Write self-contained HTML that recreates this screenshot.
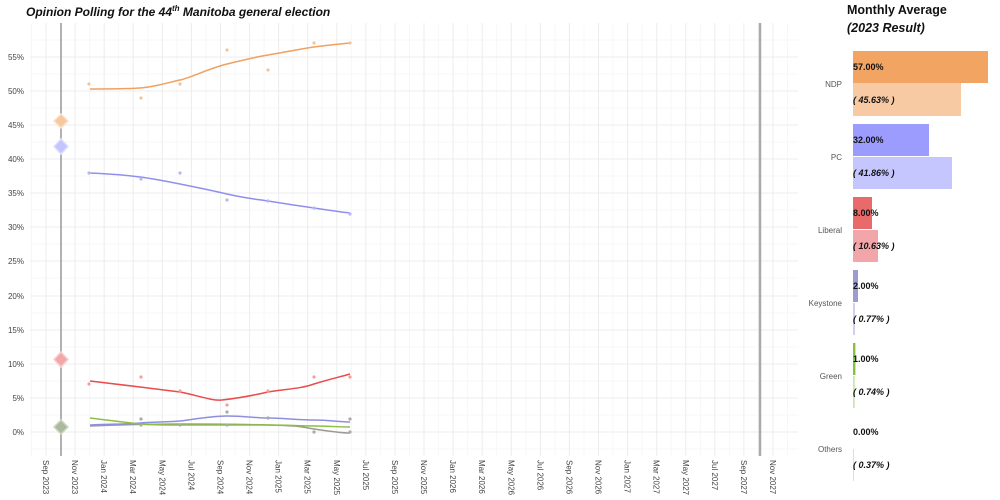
<!DOCTYPE html>
<html><head><meta charset="utf-8"><style>
html,body{margin:0;padding:0;background:#fff;width:1000px;height:500px;overflow:hidden}
svg{display:block;font-family:"Liberation Sans",sans-serif}
</style></head><body>
<svg width="1000" height="500" viewBox="0 0 1000 500">
<rect width="1000" height="500" fill="#fff"/>
<text x="26" y="16" font-size="12" font-weight="bold" font-style="italic" fill="#111">Opinion Polling for the 44<tspan font-size="8" dy="-5">th</tspan><tspan dy="5"> Manitoba general election</tspan></text>
<g stroke="#f7f7f7" stroke-width="1">
<line x1="30" x2="798" y1="449" y2="449"/><line x1="30" x2="798" y1="415" y2="415"/><line x1="30" x2="798" y1="381" y2="381"/><line x1="30" x2="798" y1="347" y2="347"/><line x1="30" x2="798" y1="313" y2="313"/><line x1="30" x2="798" y1="278" y2="278"/><line x1="30" x2="798" y1="244" y2="244"/><line x1="30" x2="798" y1="210" y2="210"/><line x1="30" x2="798" y1="176" y2="176"/><line x1="30" x2="798" y1="142" y2="142"/><line x1="30" x2="798" y1="108" y2="108"/><line x1="30" x2="798" y1="74" y2="74"/><line x1="30" x2="798" y1="40" y2="40"/>
<line x1="31.5" x2="31.5" y1="23" y2="456"/><line x1="60.5" x2="60.5" y1="23" y2="456"/><line x1="89.6" x2="89.6" y1="23" y2="456"/><line x1="118.7" x2="118.7" y1="23" y2="456"/><line x1="147.8" x2="147.8" y1="23" y2="456"/><line x1="176.8" x2="176.8" y1="23" y2="456"/><line x1="205.9" x2="205.9" y1="23" y2="456"/><line x1="235" x2="235" y1="23" y2="456"/><line x1="264.1" x2="264.1" y1="23" y2="456"/><line x1="293.2" x2="293.2" y1="23" y2="456"/><line x1="322.2" x2="322.2" y1="23" y2="456"/><line x1="351.3" x2="351.3" y1="23" y2="456"/><line x1="380.4" x2="380.4" y1="23" y2="456"/><line x1="409.5" x2="409.5" y1="23" y2="456"/><line x1="438.6" x2="438.6" y1="23" y2="456"/><line x1="467.6" x2="467.6" y1="23" y2="456"/><line x1="496.7" x2="496.7" y1="23" y2="456"/><line x1="525.8" x2="525.8" y1="23" y2="456"/><line x1="554.9" x2="554.9" y1="23" y2="456"/><line x1="584" x2="584" y1="23" y2="456"/><line x1="613" x2="613" y1="23" y2="456"/><line x1="642.1" x2="642.1" y1="23" y2="456"/><line x1="671.2" x2="671.2" y1="23" y2="456"/><line x1="700.3" x2="700.3" y1="23" y2="456"/><line x1="729.4" x2="729.4" y1="23" y2="456"/><line x1="758.4" x2="758.4" y1="23" y2="456"/><line x1="787.5" x2="787.5" y1="23" y2="456"/>
</g>
<g stroke="#ececec" stroke-width="1">
<line x1="30" x2="798" y1="432" y2="432"/><line x1="30" x2="798" y1="398" y2="398"/><line x1="30" x2="798" y1="364" y2="364"/><line x1="30" x2="798" y1="330" y2="330"/><line x1="30" x2="798" y1="296" y2="296"/><line x1="30" x2="798" y1="261" y2="261"/><line x1="30" x2="798" y1="227" y2="227"/><line x1="30" x2="798" y1="193" y2="193"/><line x1="30" x2="798" y1="159" y2="159"/><line x1="30" x2="798" y1="125" y2="125"/><line x1="30" x2="798" y1="91" y2="91"/><line x1="30" x2="798" y1="57" y2="57"/>
<line x1="46" x2="46" y1="23" y2="456"/><line x1="75.1" x2="75.1" y1="23" y2="456"/><line x1="104.2" x2="104.2" y1="23" y2="456"/><line x1="133.2" x2="133.2" y1="23" y2="456"/><line x1="162.3" x2="162.3" y1="23" y2="456"/><line x1="191.4" x2="191.4" y1="23" y2="456"/><line x1="220.5" x2="220.5" y1="23" y2="456"/><line x1="249.6" x2="249.6" y1="23" y2="456"/><line x1="278.6" x2="278.6" y1="23" y2="456"/><line x1="307.7" x2="307.7" y1="23" y2="456"/><line x1="336.8" x2="336.8" y1="23" y2="456"/><line x1="365.9" x2="365.9" y1="23" y2="456"/><line x1="395" x2="395" y1="23" y2="456"/><line x1="424" x2="424" y1="23" y2="456"/><line x1="453.1" x2="453.1" y1="23" y2="456"/><line x1="482.2" x2="482.2" y1="23" y2="456"/><line x1="511.3" x2="511.3" y1="23" y2="456"/><line x1="540.4" x2="540.4" y1="23" y2="456"/><line x1="569.4" x2="569.4" y1="23" y2="456"/><line x1="598.5" x2="598.5" y1="23" y2="456"/><line x1="627.6" x2="627.6" y1="23" y2="456"/><line x1="656.7" x2="656.7" y1="23" y2="456"/><line x1="685.8" x2="685.8" y1="23" y2="456"/><line x1="714.8" x2="714.8" y1="23" y2="456"/><line x1="743.9" x2="743.9" y1="23" y2="456"/><line x1="773" x2="773" y1="23" y2="456"/>
</g>
<g font-size="8" fill="#444" text-anchor="end">
<text x="24" y="435">0%</text><text x="24" y="401">5%</text><text x="24" y="367">10%</text><text x="24" y="333">15%</text><text x="24" y="299">20%</text><text x="24" y="264">25%</text><text x="24" y="230">30%</text><text x="24" y="196">35%</text><text x="24" y="162">40%</text><text x="24" y="128">45%</text><text x="24" y="94">50%</text><text x="24" y="60">55%</text>
</g>
<g font-size="8" fill="#444">
<text transform="translate(43,460) rotate(90)">Sep 2023</text><text transform="translate(72.1,460) rotate(90)">Nov 2023</text><text transform="translate(101.2,460) rotate(90)">Jan 2024</text><text transform="translate(130.2,460) rotate(90)">Mar 2024</text><text transform="translate(159.3,460) rotate(90)">May 2024</text><text transform="translate(188.4,460) rotate(90)">Jul 2024</text><text transform="translate(217.5,460) rotate(90)">Sep 2024</text><text transform="translate(246.6,460) rotate(90)">Nov 2024</text><text transform="translate(275.6,460) rotate(90)">Jan 2025</text><text transform="translate(304.7,460) rotate(90)">Mar 2025</text><text transform="translate(333.8,460) rotate(90)">May 2025</text><text transform="translate(362.9,460) rotate(90)">Jul 2025</text><text transform="translate(392,460) rotate(90)">Sep 2025</text><text transform="translate(421,460) rotate(90)">Nov 2025</text><text transform="translate(450.1,460) rotate(90)">Jan 2026</text><text transform="translate(479.2,460) rotate(90)">Mar 2026</text><text transform="translate(508.3,460) rotate(90)">May 2026</text><text transform="translate(537.4,460) rotate(90)">Jul 2026</text><text transform="translate(566.4,460) rotate(90)">Sep 2026</text><text transform="translate(595.5,460) rotate(90)">Nov 2026</text><text transform="translate(624.6,460) rotate(90)">Jan 2027</text><text transform="translate(653.7,460) rotate(90)">Mar 2027</text><text transform="translate(682.8,460) rotate(90)">May 2027</text><text transform="translate(711.8,460) rotate(90)">Jul 2027</text><text transform="translate(740.9,460) rotate(90)">Sep 2027</text><text transform="translate(770,460) rotate(90)">Nov 2027</text>
</g>
<line x1="61" x2="61" y1="23" y2="456" stroke="#999" stroke-width="1.5"/>
<line x1="760" x2="760" y1="23" y2="456" stroke="#aaa" stroke-width="2.5"/>
<g stroke-width="1.5">
<path d="M61,114 L68,121 L61,128 L54,121Z" fill="#f6c8a0" stroke="#fbe2cc"/>
<path d="M61,139 L68,146.5 L61,154 L54,146.5Z" fill="#c4c4ff" stroke="#dedeff"/>
<path d="M61,352 L68,359.5 L61,367 L54,359.5Z" fill="#f2a8a8" stroke="#f8d0d0"/>
<path d="M61,420 L68,427 L61,434 L54,427Z" fill="#aab9a0" stroke="#ccd8c0"/>
</g>
<g fill="none" stroke-width="1.5">
<path d="M90,89 C115,89 125,89 140,88 S170,82 180,80 S210,68 227,64 S255,57 268,55 S300,49 314,47 S340,44 350,43" stroke="#f0a060"/>
<path d="M90,173 C115,174 125,175 140,177 S170,182 180,184 S210,190 227,194 S255,199 268,201 S300,206 314,208 S340,212 350,213" stroke="#8f8fee"/>
<path d="M90,381 L140,387 L180,392 C200,396 212,401 222,400 C240,398 255,395 268,392 C285,389 300,389 314,384 C330,379 340,377 350,374" stroke="#e84c4c"/>
<path d="M90,426 C115,425 140,424 180,424 S230,424 268,425 S300,427 314,429 S340,433 350,433" stroke="#999"/>
<path d="M90,425 C115,424 130,424 140,423 S170,422 180,421 S210,416 227,416 S255,418 268,418 S300,420 314,420 S340,422 350,422" stroke="#8f8fdd"/>
<path d="M90,418 C115,421 130,423 140,424 S170,425 180,425 S250,425 268,425 S300,426 314,426 S340,427 350,427" stroke="#8cc040"/>
</g>
<g fill="#f3c49a"><circle cx="89" cy="84" r="1.6"/><circle cx="141" cy="98" r="1.6"/><circle cx="180" cy="84" r="1.6"/><circle cx="227" cy="50" r="1.6"/><circle cx="268" cy="70" r="1.6"/><circle cx="314" cy="43" r="1.6"/><circle cx="350" cy="43" r="1.6"/></g>
<g fill="#b8b8f0"><circle cx="89" cy="173" r="1.6"/><circle cx="141" cy="179" r="1.6"/><circle cx="180" cy="173" r="1.6"/><circle cx="227" cy="200" r="1.6"/><circle cx="268" cy="201" r="1.6"/><circle cx="314" cy="208" r="1.6"/><circle cx="350" cy="214" r="1.6"/></g>
<g fill="#eea0a0"><circle cx="89" cy="384" r="1.6"/><circle cx="141" cy="377" r="1.6"/><circle cx="180" cy="391" r="1.6"/><circle cx="227" cy="405" r="1.6"/><circle cx="268" cy="391" r="1.6"/><circle cx="314" cy="377" r="1.6"/><circle cx="350" cy="377" r="1.6"/></g>
<g fill="#aaa"><circle cx="141" cy="419" r="1.6"/><circle cx="180" cy="425" r="1.6"/><circle cx="227" cy="425" r="1.6"/><circle cx="227" cy="412" r="1.6"/><circle cx="268" cy="418" r="1.6"/><circle cx="314" cy="432" r="1.6"/><circle cx="350" cy="419" r="1.6"/><circle cx="350" cy="432" r="1.6"/><circle cx="141" cy="425" r="1.6"/></g>
<text x="847" y="14" font-size="12.5" font-weight="bold" fill="#111">Monthly Average</text>
<text x="847" y="32" font-size="12.5" font-weight="bold" font-style="italic" fill="#111">(2023 Result)</text>
<rect x="853" y="51" width="135" height="32" fill="#f2a462"/>
<rect x="853" y="83" width="108" height="33" fill="#f7caa4"/>
<rect x="853" y="124" width="76" height="32" fill="#9c9cff"/>
<rect x="853" y="157" width="99" height="32" fill="#c6c6ff"/>
<rect x="853" y="197" width="19" height="32" fill="#e86a6a"/>
<rect x="853" y="230" width="25" height="32" fill="#f2a6aa"/>
<rect x="853" y="270" width="5" height="32" fill="#9c9cd0"/>
<rect x="853" y="303" width="2" height="32" fill="#d0d0ee"/>
<rect x="853" y="343" width="2.4" height="32" fill="#88c040"/>
<rect x="853" y="376" width="1.8" height="32" fill="#cfe6b0"/>
<rect x="853" y="449" width="1" height="32" fill="#ddd"/>
<g font-size="8" fill="#555" text-anchor="end">
<text x="842" y="87">NDP</text><text x="842" y="160">PC</text><text x="842" y="233">Liberal</text><text x="842" y="306">Keystone</text><text x="842" y="379">Green</text><text x="842" y="452">Others</text>
</g>
<g font-size="9" font-weight="bold" fill="#111">
<text x="853" y="70">57.00%</text><text x="853" y="143">32.00%</text><text x="853" y="216">8.00%</text><text x="853" y="289">2.00%</text><text x="853" y="362">1.00%</text><text x="853" y="435">0.00%</text>
</g>
<g font-size="9" font-weight="bold" font-style="italic" fill="#111">
<text x="853" y="103">( 45.63% )</text><text x="853" y="176">( 41.86% )</text><text x="853" y="249">( 10.63% )</text><text x="853" y="322">( 0.77% )</text><text x="853" y="395">( 0.74% )</text><text x="853" y="468">( 0.37% )</text>
</g>
</svg>
</body></html>
